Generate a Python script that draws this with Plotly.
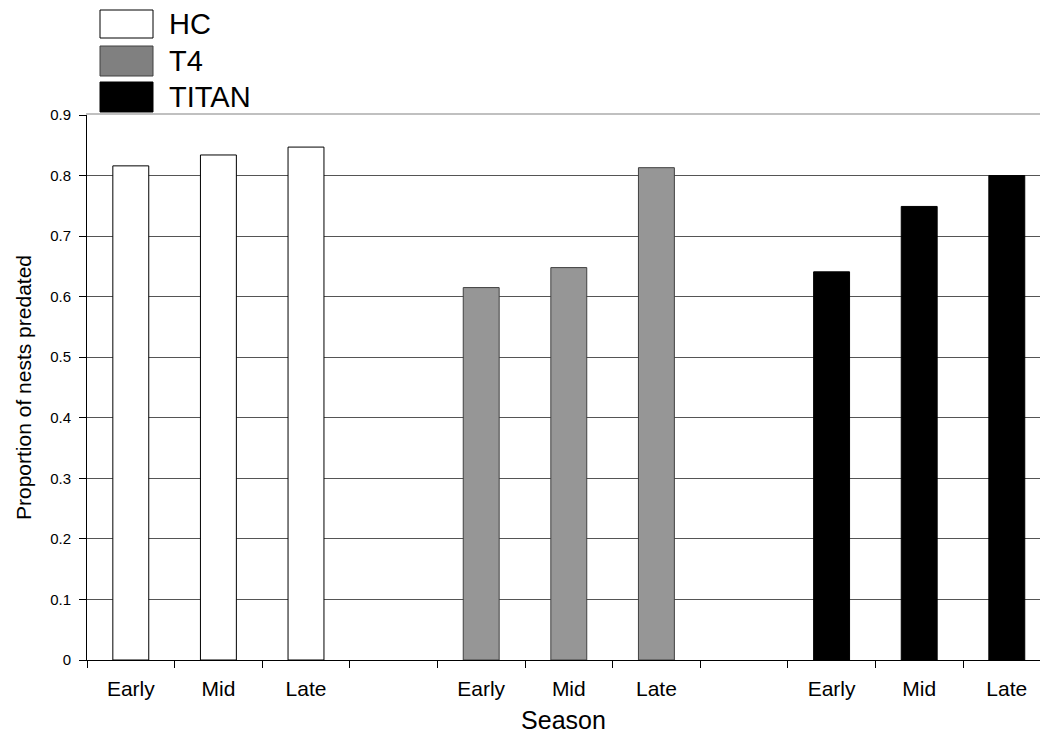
import plotly.graph_objects as go

seasons = ["Early", "Mid", "Late"]
groups = ["HC", "T4", "TITAN"]
hc_values = [0.816, 0.834, 0.847]
t4_values = [0.615, 0.648, 0.813]
titan_values = [0.641, 0.749, 0.800]
bar_colors = ["#ffffff", "#969696", "#000000"]
line_colors = ["#000000", "#404040", "#000000"]
y_ticks = [0, 0.1, 0.2, 0.3, 0.4, 0.5, 0.6, 0.7, 0.8, 0.9]

series = [hc_values, t4_values, titan_values]
FONT = "Liberation Sans, Arial, sans-serif"

fig = go.Figure()
tickvals, ticktext = [], []
for gi, (name, vals) in enumerate(zip(groups, series)):
    xs = [gi * 4 + si for si in range(len(seasons))]
    tickvals += xs
    ticktext += seasons
    fig.add_trace(go.Bar(
        x=xs, y=vals, name=name, width=0.41,
        marker=dict(color=bar_colors[gi], line=dict(color=line_colors[gi], width=1)),
        showlegend=False,
    ))

# the original axis runs past the right edge of the picture (cropped)
x_range = [-0.5, 10.379]

fig.update_layout(
    width=1040, height=735,
    margin=dict(l=87, r=0, t=115, b=75, autoexpand=False),
    paper_bgcolor="white", plot_bgcolor="white",
    barmode="overlay",
    font=dict(family=FONT, color="black"),
    xaxis=dict(
        range=x_range, tickmode="array", tickvals=tickvals, ticktext=ticktext,
        ticks="", showgrid=False, zeroline=False, automargin=False,
        showline=True, linecolor="black", linewidth=1,
        tickfont=dict(size=21, family=FONT), ticklabelstandoff=10,
        minor=dict(tickmode="linear", tick0=-0.5, dtick=1, ticks="outside",
                   ticklen=7, tickcolor="black", showgrid=False),
        title=dict(text="Season", font=dict(size=25, family=FONT), standoff=12),
    ),
    xaxis2=dict(
        overlaying="x", matches="x", side="top", anchor="y", automargin=False,
        showline=True, linecolor="#c0c0c0", linewidth=2,
        showticklabels=False, ticks="", showgrid=False, zeroline=False,
    ),
    yaxis=dict(
        range=[0, 0.9], tickmode="array", tickvals=y_ticks,
        ticktext=[("%g" % v) for v in y_ticks], automargin=False,
        ticks="outside", ticklen=7, tickcolor="black",
        showline=True, linecolor="black", linewidth=1,
        showgrid=True, gridcolor="#555555", gridwidth=1, zeroline=False,
        tickfont=dict(size=15, family=FONT), ticklabelstandoff=5,
        title=dict(text="Proportion of nests predated", font=dict(size=21, family=FONT), standoff=12),
    ),
)
# dummy trace to show top border axis
fig.add_trace(go.Scatter(x=[None], y=[None], xaxis="x2", showlegend=False, hoverinfo="skip"))

# legend drawn at top-left (positions in pixels converted to paper units)
plot_w = 1040 - 87
plot_h = 735 - 115 - 75
box_px = [(10, 38), (46, 76), (82, 112)]
for gi, name in enumerate(groups):
    top_px, bot_px = box_px[gi]
    y0 = (735 - 75 - bot_px) / plot_h
    y1 = (735 - 75 - top_px) / plot_h
    fig.add_shape(type="rect", xref="paper", yref="paper",
                  x0=(100 - 87) / plot_w, x1=(153 - 87) / plot_w, y0=y0, y1=y1,
                  fillcolor=bar_colors[gi] if gi != 1 else "#808080",
                  line=dict(color="#000000" if gi != 1 else "#404040", width=1))
    fig.add_annotation(xref="paper", yref="paper", x=(167 - 87) / plot_w, y=(y0 + y1) / 2,
                       text=name, showarrow=False, xanchor="left", yanchor="middle",
                       font=dict(size=29, family=FONT, color="black"))

fig.write_html("out.html", config={"displayModeBar": False},
               post_script="document.body.style.margin='0';document.body.style.overflow='hidden';")
